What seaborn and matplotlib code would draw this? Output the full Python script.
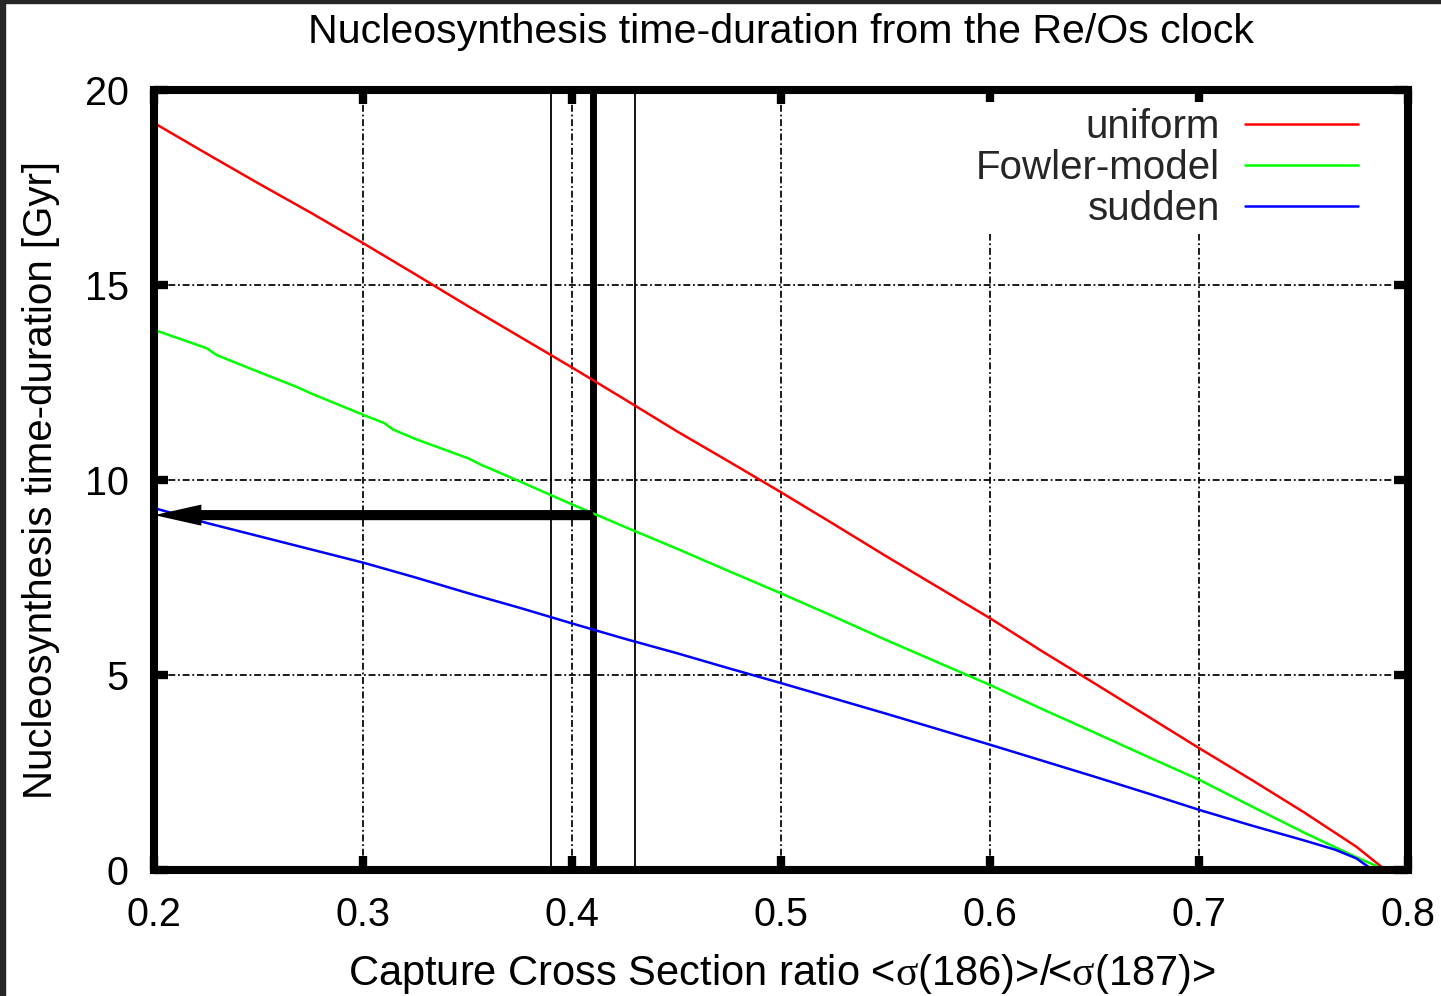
import numpy as np
import pandas as pd
import matplotlib
matplotlib.use("Agg")
import matplotlib.pyplot as plt
import seaborn as sns
from matplotlib.patches import Rectangle

# ---------------- data ----------------
title = "Nucleosynthesis time-duration from the Re/Os clock"
xlabel = r"Capture Cross Section ratio <$\mathrm{\sigma}$(186)>/<$\mathrm{\sigma}$(187)>"
ylabel = "Nucleosynthesis time-duration [Gyr]"
series_names = ["uniform", "Fowler-model", "sudden"]
series_colors = ["#ff0000", "#00ff00", "#0000ff"]

uniform_x = [0.200, 0.225, 0.250, 0.275, 0.300, 0.325, 0.350, 0.375, 0.400, 0.425,
             0.450, 0.475, 0.500, 0.525, 0.550, 0.575, 0.600, 0.625, 0.650, 0.675,
             0.700, 0.725, 0.750, 0.775, 0.789]
uniform_y = [19.15, 18.37, 17.60, 16.85, 16.07, 15.27, 14.46, 13.67, 12.88, 12.07,
             11.25, 10.47, 9.68, 8.87, 8.05, 7.25, 6.45, 5.60, 4.78, 3.95,
             3.12, 2.31, 1.48, 0.60, 0.00]

fowler_x = [0.200, 0.225, 0.230, 0.250, 0.268, 0.275, 0.300, 0.310, 0.314, 0.325,
            0.350, 0.356, 0.375, 0.400, 0.425, 0.450, 0.475, 0.500, 0.525, 0.550,
            0.575, 0.600, 0.625, 0.650, 0.675, 0.700, 0.725, 0.750, 0.775, 0.789]
fowler_y = [13.85, 13.38, 13.20, 12.77, 12.39, 12.22, 11.67, 11.46, 11.30, 11.05,
            10.56, 10.40, 9.96, 9.37, 8.80, 8.24, 7.66, 7.09, 6.50, 5.90,
            5.32, 4.74, 4.12, 3.52, 2.91, 2.31, 1.63, 0.96, 0.33, 0.00]

sudden_x = [0.200, 0.225, 0.250, 0.275, 0.300, 0.325, 0.350, 0.375, 0.400, 0.425,
            0.450, 0.475, 0.500, 0.525, 0.550, 0.575, 0.600, 0.625, 0.650, 0.675,
            0.700, 0.725, 0.750, 0.765, 0.775, 0.783]
sudden_y = [9.28, 8.90, 8.56, 8.22, 7.88, 7.50, 7.10, 6.72, 6.32, 5.93,
            5.56, 5.17, 4.79, 4.40, 4.01, 3.61, 3.21, 2.80, 2.39, 1.97,
            1.54, 1.14, 0.76, 0.52, 0.30, 0.00]

xticks = [0.2, 0.3, 0.4, 0.5, 0.6, 0.7, 0.8]
xtick_labels = ["0.2", "0.3", "0.4", "0.5", "0.6", "0.7", "0.8"]
yticks = [0, 5, 10, 15, 20]
ytick_labels = ["0", "5", "10", "15", "20"]
thin_ref_lines = [0.39, 0.43]
thick_ref_line = 0.41
arrow_start_x = 0.41
arrow_end_x = 0.20
arrow_y = 9.1

# ---------------- style ----------------
sns.set_theme(style="white")
plt.rcParams["font.family"] = ["Liberation Sans", "DejaVu Sans"]
plt.rcParams["mathtext.fontset"] = "custom"
plt.rcParams["mathtext.rm"] = "Liberation Serif"
plt.rcParams["mathtext.it"] = "Liberation Serif:italic"
plt.rcParams["lines.scale_dashes"] = False

frames = []
for name, xs, ys in [(series_names[0], uniform_x, uniform_y),
                     (series_names[1], fowler_x, fowler_y),
                     (series_names[2], sudden_x, sudden_y)]:
    frames.append(pd.DataFrame({"x": xs, "y": ys, "model": name}))
df = pd.concat(frames, ignore_index=True)

fig = plt.figure(figsize=(14.41, 9.96), dpi=100, facecolor="white")
ax = fig.add_axes([0.1071, 0.1265, 0.9774 - 0.1071, 0.9096 - 0.1265])

# screenshot's dark border (left & top)
fig.patches.append(Rectangle((0, 0), 5 / 1441, 1, transform=fig.transFigure,
                             color="#262626", zorder=0))
fig.patches.append(Rectangle((0, 1 - 3 / 996), 1, 3 / 996, transform=fig.transFigure,
                             color="#262626", zorder=0))

for name, color in zip(series_names, series_colors):
    sub = df[df["model"] == name]
    sns.lineplot(data=sub, x="x", y="y", color=color, linewidth=1.8,
                 estimator=None, sort=False, label=name, ax=ax, zorder=4)

ax.set_xlim(0.2, 0.8)
ax.set_ylim(0, 20)
ax.set_xticks(xticks)
ax.set_xticklabels(xtick_labels)
ax.set_yticks(yticks)
ax.set_yticklabels(ytick_labels)

ax.grid(True, color="black", linewidth=1.25, linestyle=(0, (5, 2, 1.3, 2)))
ax.set_axisbelow(True)

for xv in thin_ref_lines:
    ax.axvline(xv, color="black", linewidth=1.3, zorder=3)
ax.axvline(thick_ref_line, color="black", linewidth=5.0, zorder=3)

ax.arrow(arrow_start_x, arrow_y, arrow_end_x - arrow_start_x, 0,
         width=0.26, head_width=0.54, head_length=0.0225,
         length_includes_head=True, fc="black", ec="none", zorder=5)

for sp in ax.spines.values():
    sp.set_visible(True)
    sp.set_color("black")
    sp.set_linewidth(5.8)
    sp.set_zorder(6)

ax.tick_params(axis="both", which="major", direction="in", length=10, width=6,
               color="black", top=True, right=True, bottom=True, left=True,
               labelsize=28.5, labelcolor="black", pad=18.5)

ax.set_title(title, fontsize=29.6, pad=34, color="black")
ax.set_xlabel(xlabel, fontsize=30, labelpad=13, color="black")
ax.set_ylabel(ylabel, fontsize=29, labelpad=18, color="black")

handles, labels = ax.get_legend_handles_labels()
leg = ax.legend(handles, labels, loc="upper right", bbox_to_anchor=(0.9645, 0.985),
                markerfirst=False, fontsize=29, frameon=True, framealpha=1,
                facecolor="white", edgecolor="none", fancybox=False,
                borderpad=0.15, borderaxespad=0, handlelength=2.8,
                handletextpad=0.62, labelspacing=0.08)
leg.set_zorder(5)

fig.savefig("out.png", dpi=100, facecolor=fig.get_facecolor())
